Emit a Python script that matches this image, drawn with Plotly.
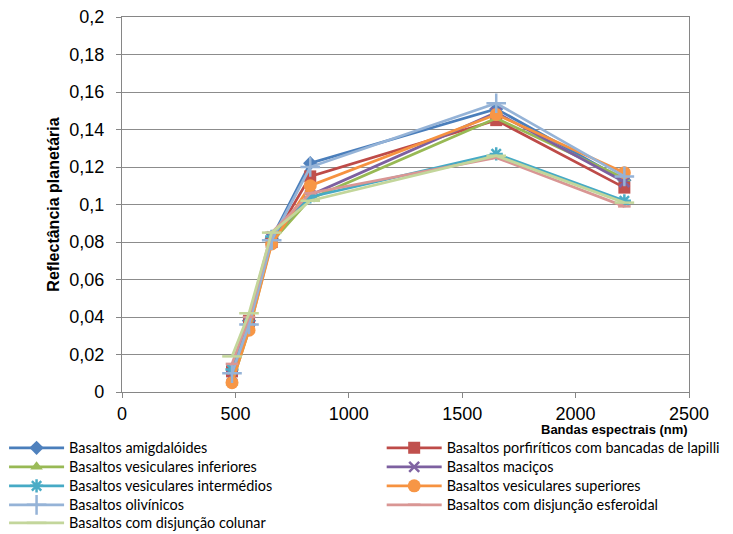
import plotly.graph_objects as go

bands = [485, 560, 660, 830, 1650, 2215]

names = [
    "Basaltos amigdalóides",
    "Basaltos porfiríticos com bancadas de lapilli",
    "Basaltos vesiculares inferiores",
    "Basaltos maciços",
    "Basaltos vesiculares intermédios",
    "Basaltos vesiculares superiores",
    "Basaltos olivínicos",
    "Basaltos com disjunção esferoidal",
    "Basaltos com disjunção colunar",
]

amigdaloides = [0.010, 0.038, 0.082, 0.122, 0.151, 0.113]
porfiriticos = [0.011, 0.038, 0.080, 0.115, 0.145, 0.109]
ves_inferiores = [0.005, 0.033, 0.080, 0.103, 0.146, 0.114]
macicos = [0.009, 0.037, 0.082, 0.105, 0.149, 0.112]
ves_intermedios = [0.012, 0.036, 0.083, 0.104, 0.127, 0.102]
ves_superiores = [0.005, 0.033, 0.079, 0.110, 0.148, 0.117]
olivinicos = [0.010, 0.036, 0.081, 0.120, 0.154, 0.115]
esferoidal = [0.015, 0.040, 0.085, 0.106, 0.125, 0.099]
colunar = [0.019, 0.042, 0.085, 0.102, 0.126, 0.101]

series = [amigdaloides, porfiriticos, ves_inferiores, macicos, ves_intermedios,
          ves_superiores, olivinicos, esferoidal, colunar]

line_colors = ["#4A7EBB", "#BE4B48", "#98B954", "#7D60A0", "#46AAC5",
               "#F69240", "#95B3D7", "#D99694", "#C3D69B"]
marker_colors = ["#4F81BD", "#C0504D", "#9BBB59", "#8064A2", "#4BACC6",
                 "#F79646", "#95B3D7", "#D99694", "#C3D69B"]
symbols = ["diamond", "square", "triangle-up", "x-thin-open", "asterisk-open",
           "circle", "cross-thin-open", "line-ew-open", "line-ew-open"]
sizes = [11, 12, 11, 10, 11, 13, 14, 9, 14]

fig = go.Figure()
legend_ids = ["legend"] + ["legend%d" % k for k in range(2, 10)]
for i, (nm, ys) in enumerate(zip(names, series)):
    open_sym = symbols[i].endswith("open")
    fig.add_trace(go.Scatter(
        x=bands, y=ys, name=nm, mode="lines+markers", showlegend=True,
        line=dict(color=line_colors[i], width=2.75),
        marker=dict(symbol=symbols[i], size=sizes[i], color=marker_colors[i],
                    line=dict(color=marker_colors[i], width=2.5 if open_sym else 0)),
        legend=legend_ids[i],
    ))

axis_col = "#868686"
leg_font = dict(size=14.4, family="Lato, Open Sans, sans-serif", color="black")
row_y = [-0.1493, -0.2, -0.2507, -0.3013, -0.3493]
col_x = [-0.208, 0.458]
legends = {}
for i, lid in enumerate(legend_ids):
    legends[lid] = dict(x=col_x[i % 2], y=row_y[i // 2], xanchor="left", yanchor="middle",
                        orientation="v", itemwidth=55, bgcolor="rgba(0,0,0,0)",
                        font=leg_font, visible=True)

fig.update_layout(
    width=725, height=526,
    margin=dict(l=114, r=44, t=9, b=142, autoexpand=False),
    showlegend=True,
    plot_bgcolor="white", paper_bgcolor="white",
    font=dict(family="Arial, Liberation Sans, sans-serif", color="black"),
    xaxis=dict(range=[0, 2500], dtick=500, tickformat="d",
               showgrid=False, zeroline=False,
               showline=True, linecolor=axis_col, linewidth=1.3, mirror=True,
               ticks="outside", ticklen=5, tickcolor=axis_col,
               ticklabeloverflow="allow",
               tickfont=dict(size=18, family="Arial, Liberation Sans")),
    yaxis=dict(range=[0, 0.2], dtick=0.02, tickformat=",.2~f",
               showgrid=True, gridcolor="#8C8C8C", gridwidth=1.3, zeroline=False,
               showline=True, linecolor=axis_col, linewidth=1.3, mirror=True,
               ticks="outside", ticklen=5, tickcolor=axis_col, ticklabelstandoff=8,
               ticklabeloverflow="allow",
               tickfont=dict(size=18, family="Arial, Liberation Sans"),
               title=dict(text="Reflectância planetária",
                          font=dict(size=16, family="Arial, Liberation Sans", weight="bold"),
                          standoff=5)),
    separators=",.",
    annotations=[dict(text="<b>Bandas espectrais (nm)</b>", xref="paper", yref="paper",
                      x=0.868, y=-0.101, xanchor="center", yanchor="middle",
                      showarrow=False, font=dict(size=13, family="Arial, Liberation Sans"))],
    **legends,
)

fig.write_html("out.html")
